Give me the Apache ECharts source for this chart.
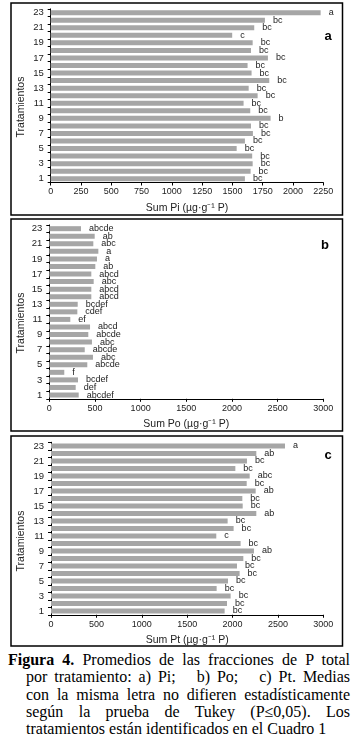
<!DOCTYPE html>
<html><head><meta charset="utf-8">
<script src="https://cdn.jsdelivr.net/npm/echarts@6/dist/echarts.min.js"></script>
<style>
html,body{margin:0;padding:0;background:#fff;}
#chart{position:absolute;left:0;top:0;width:353px;height:650px;}
#caption{position:absolute;left:0;top:651px;width:353px;font-family:"Liberation Serif","Times New Roman",serif;font-size:16px;line-height:17.3px;color:#000;}
.ln{text-align:justify;text-align-last:justify;margin-left:26px;width:324px;}
.ln.first{margin-left:8px;width:342px;}
.ln.last{text-align-last:left;}
</style></head>
<body>
<div id="chart"></div>
<div id="caption">
<div class="ln first"><b>Figura 4.</b> Promedios de las fracciones de P total</div>
<div class="ln">por tratamiento: a) Pi;&nbsp;&nbsp; b) Po;&nbsp;&nbsp; c) Pt. Medias</div>
<div class="ln">con la misma letra no difieren estadísticamente</div>
<div class="ln">según la prueba de Tukey (P≤0,05). Los</div>
<div class="ln last">tratamientos están identificados en el Cuadro 1</div>
</div>
<script>
const treatments = ['1','2','3','4','5','6','7','8','9','10','11','12','13','14','15','16','17','18','19','20','21','22','23'];
const piValues = [1603,1650,1667,1663,1535,1603,1669,1653,1815,1647,1592,1708,1634,1804,1658,1625,1793,1653,1667,1498,1680,1768,2228];
const piLetters = ['bc','bc','bc','bc','bc','bc','bc','bc','b','bc','bc','bc','bc','bc','bc','bc','bc','bc','bc','c','bc','bc','a'];
const poValues = [322,289,314,164,416,478,388,467,427,446,230,307,311,460,460,486,460,504,522,537,482,497,347];
const poLetters = ['abcdef','def','bcdef','f','abcde','abc','abcde','abc','abcde','abcd','ef','cdef','bcdef','abcd','abcd','abc','abcd','ab','a','a','abc','ab','abcde'];
const ptValues = [1913,1939,1979,1825,1950,2078,2049,2119,2236,2089,1821,2012,1946,2262,2112,2108,2255,2156,2189,2031,2159,2262,2578];
const ptLetters = ['bc','bc','bc','bc','bc','bc','bc','bc','ab','bc','c','bc','bc','ab','bc','bc','ab','bc','abc','bc','bc','ab','a'];
const xNames = ['Sum Pi (µg·g⁻¹ P)','Sum Po (µg·g⁻¹ P)','Sum Pt (µg·g⁻¹ P)'];
const yName = 'Tratamientos';
const xMax = [2250,3000,3000];
const xInterval = [250,500,500];
const panelTags = ['a','b','c'];

const FONT = '"Liberation Sans", Arial, sans-serif';
const values = [piValues, poValues, ptValues];
const letters = [piLetters, poLetters, ptLetters];
const grids = [
  {left:50.7, top:8.9, width:272.6, height:173.6},
  {left:49.3, top:224.9, width:274, height:173.9},
  {left:51, top:442.25, width:272.3, height:172.5}
];
const boxes = [[11,3,331.5,212],[11,219,331.5,212],[11,436,331.5,210]];
const tagPos = [[328,36.5],[325,245.5],[328,455.7]];
const yNamePos = [[21,107],[21,323],[21,541]];

const chart = echarts.init(document.getElementById('chart'), null, {renderer:'canvas'});
const option = {
  backgroundColor:'#fff',
  animation:false,
  grid: grids,
  xAxis: grids.map((g,i)=>({
    gridIndex:i, type:'value', min:0, max:xMax[i], interval:xInterval[i],
    name:xNames[i], nameLocation:'middle', nameGap:20,
    nameTextStyle:{fontFamily:FONT, fontSize:10.5, color:'#222'},
    axisLine:{show:true, lineStyle:{color:'#000', width:1}},
    axisTick:{show:true, length:3, lineStyle:{color:'#000'}},
    axisLabel:{fontFamily:FONT, fontSize:9, color:'#222', margin:5, formatter:(v)=>String(v)},
    splitLine:{show:false}
  })),
  yAxis: grids.map((g,i)=>({
    gridIndex:i, type:'category', data:treatments,
    axisLine:{show:true, lineStyle:{color:'#000', width:1}},
    axisTick:{show:true, interval:0, length:3, lineStyle:{color:'#000'}},
    axisLabel:{interval:1, fontFamily:FONT, fontSize:9.5, color:'#222', margin:7},
    splitLine:{show:false}
  })),
  series: values.map((v,i)=>({
    type:'bar', xAxisIndex:i, yAxisIndex:i, data:v, barWidth:5,
    itemStyle:{color:'#a6a6a6'},
    label:{show:true, position:'right', distance:8, fontFamily:FONT, fontSize:9, color:'#222',
      formatter:(p)=>letters[i][p.dataIndex]}
  })),
  graphic: [
    ...boxes.map(b=>({type:'rect', shape:{x:b[0], y:b[1], width:b[2], height:b[3]},
      style:{fill:'none', stroke:'#000', lineWidth:1.5}, silent:true})),
    ...tagPos.map((p,i)=>({type:'text', x:p[0], y:p[1],
      style:{text:panelTags[i], fontFamily:FONT, fontSize:13, fontWeight:'bold', fill:'#000', align:'center', verticalAlign:'middle'}})),
    ...yNamePos.map(p=>({type:'text', x:p[0], y:p[1], rotation:Math.PI/2,
      style:{text:yName, fontFamily:FONT, fontSize:10.5, fill:'#222', align:'center', verticalAlign:'middle'}}))
  ]
};
chart.setOption(option);
</script>
</body></html>
